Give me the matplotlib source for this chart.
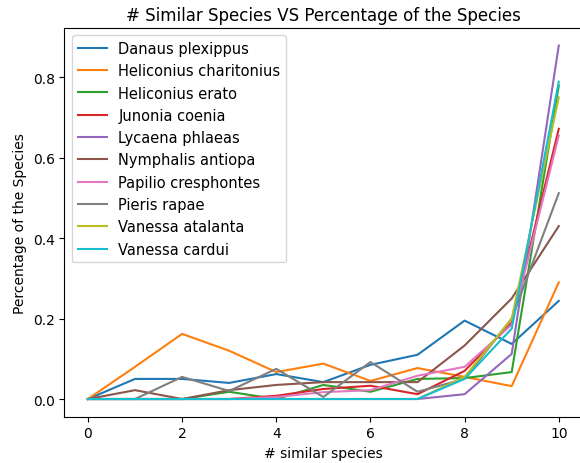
import matplotlib
matplotlib.use("Agg")
import matplotlib.pyplot as plt

x_values = list(range(11))
species = ["Danaus plexippus", "Heliconius charitonius", "Heliconius erato",
           "Junonia coenia", "Lycaena phlaeas", "Nymphalis antiopa",
           "Papilio cresphontes", "Pieris rapae", "Vanessa atalanta", "Vanessa cardui"]

danaus = [0, 0.05, 0.05, 0.04, 0.062, 0.042, 0.085, 0.11, 0.195, 0.137, 0.244]
charitonius = [0, 0.08, 0.162, 0.12, 0.067, 0.088, 0.045, 0.077, 0.055, 0.032, 0.29]
erato = [0, 0, 0, 0.018, 0, 0.035, 0.018, 0.05, 0.052, 0.067, 0.779]
junonia = [0, 0, 0, 0, 0.008, 0.025, 0.033, 0.012, 0.07, 0.19, 0.672]
lycaena = [0, 0, 0, 0, 0, 0, 0, 0, 0.012, 0.112, 0.879]
nymphalis = [0, 0.022, 0, 0.022, 0.035, 0.042, 0.042, 0.042, 0.133, 0.25, 0.43]
papilio = [0, 0, 0, 0, 0.005, 0.017, 0.022, 0.058, 0.08, 0.185, 0.655]
pieris = [0, 0, 0.055, 0.02, 0.075, 0.005, 0.092, 0.018, 0.05, 0.2, 0.512]
atalanta = [0, 0, 0, 0, 0, 0, 0, 0, 0.055, 0.2, 0.75]
cardui = [0, 0, 0, 0, 0, 0, 0, 0, 0.05, 0.175, 0.789]

series = [danaus, charitonius, erato, junonia, lycaena, nymphalis,
          papilio, pieris, atalanta, cardui]

fig = plt.figure(figsize=(5.8, 4.64), dpi=100)
ax = fig.add_axes([0.111, 0.0998, 0.893, 0.838])
for name, vals in zip(species, series):
    ax.plot(x_values, vals, label=name, linewidth=1.5)

ax.set_title("# Similar Species VS Percentage of the Species", fontsize=12)
ax.set_xlabel("# similar species")
ax.set_ylabel("Percentage of the Species")
ax.legend(loc="upper left", fontsize=10.5)
fig.savefig("out.png", dpi=100)
